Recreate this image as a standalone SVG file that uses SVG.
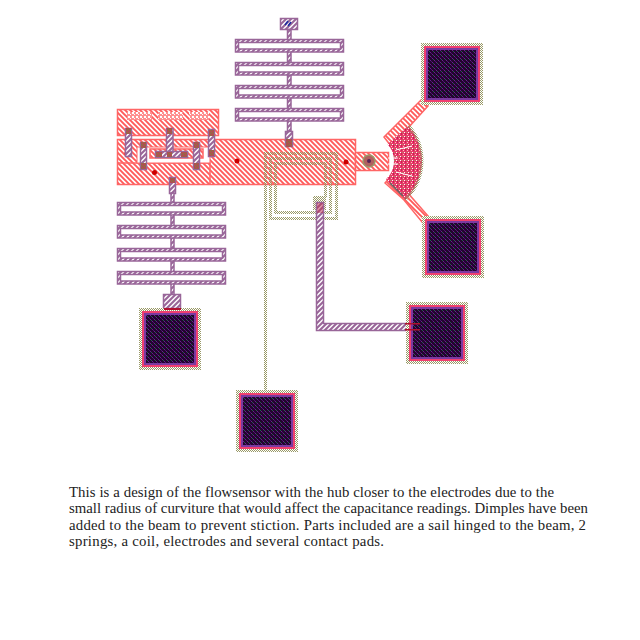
<svg xmlns="http://www.w3.org/2000/svg" xmlns:xlink="http://www.w3.org/1999/xlink" width="640" height="640" viewBox="0 0 640 640">
<style>
.r{fill:url(#red);stroke:#ff6666;stroke-width:1.5}
.p{fill:url(#pur);stroke:#996699;stroke-width:1.5}
.w{fill:#fff;stroke:#996699;stroke-width:1.5}
.c{fill:none;stroke:url(#oli);stroke-width:3}
.o{fill:url(#oli)}
.dot{fill:#cc0000}
text{font-family:"Liberation Serif",serif;font-size:14.8px;fill:#222}
</style>
<defs>
<pattern id="red" width="5" height="5" patternUnits="userSpaceOnUse"><rect width="5" height="5" fill="#fff"/><path d="M-1 4L4 9M-1 -1L6 6M1 -4L6 1" stroke="#ff5a5a" stroke-width="1.900" fill="none"/></pattern>
<pattern id="pur" width="5" height="5" patternUnits="userSpaceOnUse"><rect width="5" height="5" fill="#fff"/><path d="M-1 1L1 -1M-1 6L6 -1M4 6L6 4" stroke="#996699" stroke-width="2.100" fill="none"/></pattern>
<pattern id="oli" width="2" height="2" patternUnits="userSpaceOnUse"><rect width="1" height="1" fill="#999966"/><rect x="1" y="1" width="1" height="1" fill="#999966"/></pattern>
<pattern id="dark" width="4" height="4" patternUnits="userSpaceOnUse"><rect width="4" height="4" fill="#22052e"/><rect width="1" height="1" fill="#1f5f4a"/><rect x="1" y="1" width="1" height="1" fill="#6a1f90"/><rect x="2" y="2" width="1" height="1" fill="#4a1070"/><rect x="3" y="3" width="1" height="1" fill="#6a1f90"/></pattern>
<pattern id="mix" width="4" height="4" patternUnits="userSpaceOnUse"><rect width="4" height="4" fill="#e83a68"/><rect width="1" height="1" fill="#fff"/><rect x="2" y="0" width="1" height="1" fill="#999966"/><rect x="1" y="2" width="1" height="1" fill="#d02060"/><rect x="3" y="2" width="1" height="1" fill="#ffc0c0"/><rect x="1" y="1" width="1" height="1" fill="#d01850"/></pattern>
<pattern id="via" width="3" height="3" patternUnits="userSpaceOnUse"><rect width="3" height="3" fill="#b05050"/><rect width="1" height="1" fill="#7f7f3f"/><rect x="1" y="1" width="1" height="1" fill="#7f7f3f"/></pattern>
<pattern id="win" width="4" height="4" patternUnits="userSpaceOnUse"><rect width="4" height="4" fill="#ff9090"/><rect width="2" height="2" fill="#fff"/><rect x="2" y="2" width="1" height="1" fill="#fff"/></pattern>
<g id="pad">
<rect width="62" height="62" fill="#fff"/>
<rect width="62" height="62" class="o"/>
<rect x="2" y="2" width="58" height="58" fill="#fff"/>
<rect x="2" y="2" width="58" height="58" class="o"/>
<rect x="3" y="3" width="56" height="56" fill="#f04070"/>
<rect x="5" y="5" width="52" height="52" fill="#7a3aa0"/>
<rect x="7" y="7" width="48" height="48" fill="url(#dark)"/>
</g>
<g id="spr">
<rect x="0.500" y="0.500" width="108" height="12.500" class="p"/>
<rect x="3.500" y="3.500" width="102" height="6.500" class="w"/>
</g>
</defs>
<rect width="640" height="640" fill="#fff"/>

<g id="beam">
<rect class="r" x="117.500" y="109.500" width="101" height="26"/>
<g fill="url(#win)"><rect x="127" y="112" width="25" height="8"/><rect x="158" y="112" width="25" height="8"/><rect x="189" y="112" width="20" height="8"/></g>
<rect class="r" x="117.500" y="139.500" width="238" height="45"/>
<path d="M117 163H210V185" fill="none" stroke="#ff6666" stroke-width="1.500"/>
<rect x="137" y="147" width="73" height="16" fill="#fff" stroke="#ff6666" stroke-width="1"/>
<rect class="r" x="150" y="149" width="53" height="9"/>
<circle class="dot" cx="128" cy="153" r="3.500"/>
<circle class="dot" cx="154.500" cy="172.500" r="2.500"/>
<circle class="dot" cx="237" cy="161" r="2.500"/>
<circle class="dot" cx="346" cy="162" r="2.500"/>
</g>

<g id="hinges">
<rect class="p" x="125.500" y="128.500" width="6" height="28"/>
<rect class="p" x="140.500" y="142.500" width="6" height="27"/>
<rect class="p" x="166.500" y="128.500" width="6.500" height="28"/>
<rect class="p" x="193.500" y="142.500" width="6" height="27"/>
<rect class="p" x="208.500" y="129.500" width="6" height="27"/>
<rect class="p" x="155.500" y="151.500" width="32" height="6"/>
<g fill="url(#via)"><rect x="126" y="128" width="5" height="6"/><rect x="141" y="142" width="5" height="6"/><rect x="141" y="163" width="5" height="6"/><rect x="167" y="128" width="5" height="6"/><rect x="194" y="142" width="5" height="6"/><rect x="194" y="163" width="5" height="6"/><rect x="209" y="130" width="5" height="6"/><rect x="209" y="150" width="5" height="6"/><rect x="156" y="152" width="6" height="5"/><rect x="167" y="152" width="5" height="5"/><rect x="181" y="152" width="6" height="5"/></g>
</g>

<g id="spring-top">
<rect class="p" x="280.500" y="18.500" width="17" height="11"/>
<path d="M285 25L288 21M288 26L291 22" stroke="#1a2aa0" stroke-width="1.500"/>
<rect class="p" x="287.500" y="29.500" width="3.500" height="102"/>
<use xlink:href="#spr" href="#spr" x="235" y="39"/>
<use xlink:href="#spr" href="#spr" x="235" y="62"/>
<use xlink:href="#spr" href="#spr" x="235" y="85"/>
<use xlink:href="#spr" href="#spr" x="235" y="108"/>
<rect class="p" x="285.500" y="131.500" width="7" height="15"/>
<rect x="286" y="139" width="6" height="8" fill="url(#via)"/>
</g>

<g id="spring-left">
<rect class="p" x="169.500" y="177.500" width="6" height="16"/>
<rect x="170" y="178" width="5" height="5" fill="url(#via)"/>
<rect class="p" x="171" y="193" width="3" height="102"/>
<use xlink:href="#spr" href="#spr" x="117" y="202"/>
<use xlink:href="#spr" href="#spr" x="117" y="225"/>
<use xlink:href="#spr" href="#spr" x="117" y="248"/>
<use xlink:href="#spr" href="#spr" x="117" y="271"/>
<rect class="p" x="163.500" y="294.500" width="17" height="14"/>
</g>

<g id="coil">
<path class="c" d="M265.500 390V153.500H336.500V218.500H270.500V158.500H330.500V212.500H275.500V163.500H325.500V197"/>
<rect x="313" y="196" width="13" height="14" class="o"/>
</g>

<g id="lead">
<path class="p" d="M316.500 202.500H323.500V323.500H409V330.500H316.500Z"/>
<rect x="317" y="203" width="6" height="10" fill="#c03050" fill-opacity=".5"/>
</g>

<g id="electrodes">
<rect class="r" x="355.500" y="152.500" width="33" height="18"/>
<circle cx="369" cy="161" r="6" fill="#b06060" stroke="#999966" stroke-width="1.500"/>
<circle cx="369" cy="161" r="2" fill="#552255"/>
<path class="r" d="M384 137L422 99L428 106L409 127L391 146Z"/>
<path class="r" d="M385 183L392 175L428 216L422 222L404 200Z"/>
<path d="M387.600 144.300L408.400 125.500A53 53 0 0 1 405.100 199.700L386 179.300A25 25 0 0 0 394 161A25 25 0 0 0 387.600 144.300Z" fill="url(#mix)"/>
<path d="M408.400 125.500A53 53 0 0 1 405.100 199.700" fill="none" stroke="url(#oli)" stroke-width="3"/>
<path d="M388 158H398M388 164H398M396 150L412 146M396 172L412 176" stroke="#fff" stroke-width="1" fill="none"/>
<path d="M390 183L403 196" stroke="#666" stroke-width="1.500"/>
</g>

<use id="pad1" xlink:href="#pad" href="#pad" x="421" y="43"/>
<use id="pad2" xlink:href="#pad" href="#pad" x="422" y="216"/>
<use id="pad3" xlink:href="#pad" href="#pad" x="236" y="390"/>
<use id="pad4" xlink:href="#pad" href="#pad" x="406" y="302"/>
<use id="pad5" xlink:href="#pad" href="#pad" x="139" y="308"/>
<g id="pad-overlaps" fill="#b01030">
<rect x="405" y="323" width="15" height="1.500"/>
<rect x="405" y="329" width="15" height="1.500"/>
<rect x="164" y="308" width="17" height="2"/>
</g>

<g id="caption">
<text x="69" y="496.500" textLength="485" lengthAdjust="spacing">This is a design of the flowsensor with the hub closer to the electrodes due to the</text>
<text x="69" y="513" textLength="519" lengthAdjust="spacing">small radius of curviture that would affect the capacitance readings. Dimples have been</text>
<text x="69" y="529.500" textLength="517" lengthAdjust="spacing">added to the beam to prevent stiction. Parts included are a sail hinged to the beam, 2</text>
<text x="69" y="546" textLength="315" lengthAdjust="spacing">springs, a coil, electrodes and several contact pads.</text>
</g>
</svg>
